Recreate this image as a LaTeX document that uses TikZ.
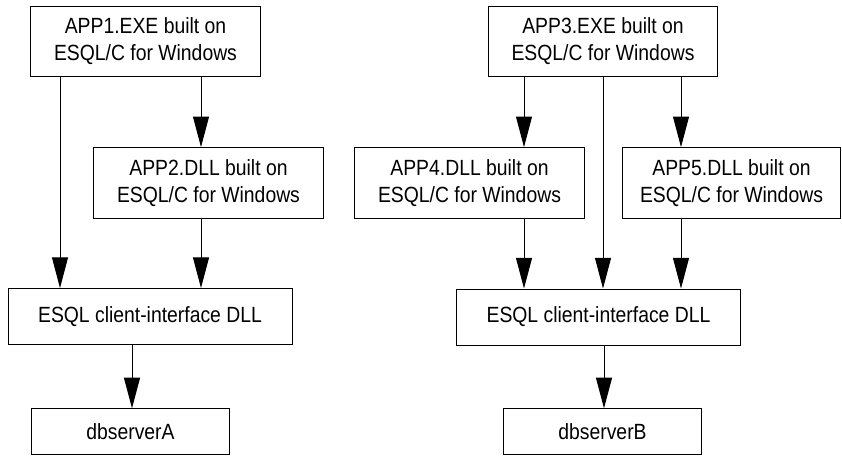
\documentclass[tikz,border=0pt]{standalone}
\usepackage{fontspec}
\setmainfont[FakeStretch=0.88]{Liberation Sans}
\usetikzlibrary{arrows.meta}
\tikzset{every picture/.style={line width=0.75pt}}
\tikzset{
  appbox/.style={draw, inner sep=0pt, align=center, minimum width=172pt, minimum height=53pt, font=\fontsize{16.5}{20.25}\selectfont},
  dllbox/.style={appbox, minimum width=213pt, minimum height=42pt},
  dbbox/.style={appbox, minimum width=149pt, minimum height=34pt},
  flow/.style={-{Triangle[length=23pt,width=12pt]}},
}

\begin{document}
\begin{tikzpicture}[x=0.75pt,y=0.75pt,yscale=-1,xscale=1]
\useasboundingbox (0,0) rectangle (842,455);

% Text Node
\node (app1) [appbox] at (145.5,41.5) {APP1.EXE built on\\ESQL/C for Windows};
% Text Node
\node (app2) [appbox] at (208.5,183) {APP2.DLL built on\\ESQL/C for Windows};
% Text Node
\node (esqlA) [dllbox] at (150,316.5) {ESQL client-interface DLL};
% Text Node
\node (dbA) [dbbox] at (130.5,431.5) {dbserverA};

% Text Node
\node (app3) [appbox] at (603,41.5) {APP3.EXE built on\\ESQL/C for Windows};
% Text Node
\node (app4) [appbox] at (469.5,183) {APP4.DLL built on\\ESQL/C for Windows};
% Text Node
\node (app5) [appbox, minimum width=163.5pt] at (731.5,183) {APP5.DLL built on\\ESQL/C for Windows};
% Text Node
\node (esqlB) [dllbox] at (598.5,317) {ESQL client-interface DLL};
% Text Node
\node (dbB) [dbbox] at (602.5,431.5) {dbserverB};

%Straight Lines
\draw [flow] (app1.south -| 60,0) -- (esqlA.north -| 60,0);
\draw [flow] (app1.south -| 201,0) -- (app2.north -| 201,0);
\draw [flow] (app2.south -| 201,0) -- (esqlA.north -| 201,0);
\draw [flow] (esqlA.south -| 132,0) -- (dbA.north -| 132,0);

%Straight Lines
\draw [flow] (app3.south -| 524,0) -- (app4.north -| 524,0);
\draw [flow] (app3.south -| 603,0) -- (esqlB.north -| 603,0);
\draw [flow] (app3.south -| 681,0) -- (app5.north -| 681,0);
\draw [flow] (app4.south -| 524,0) -- (esqlB.north -| 524,0);
\draw [flow] (app5.south -| 681,0) -- (esqlB.north -| 681,0);
\draw [flow] (esqlB.south -| 604,0) -- (dbB.north -| 604,0);

\end{tikzpicture}
\end{document}
